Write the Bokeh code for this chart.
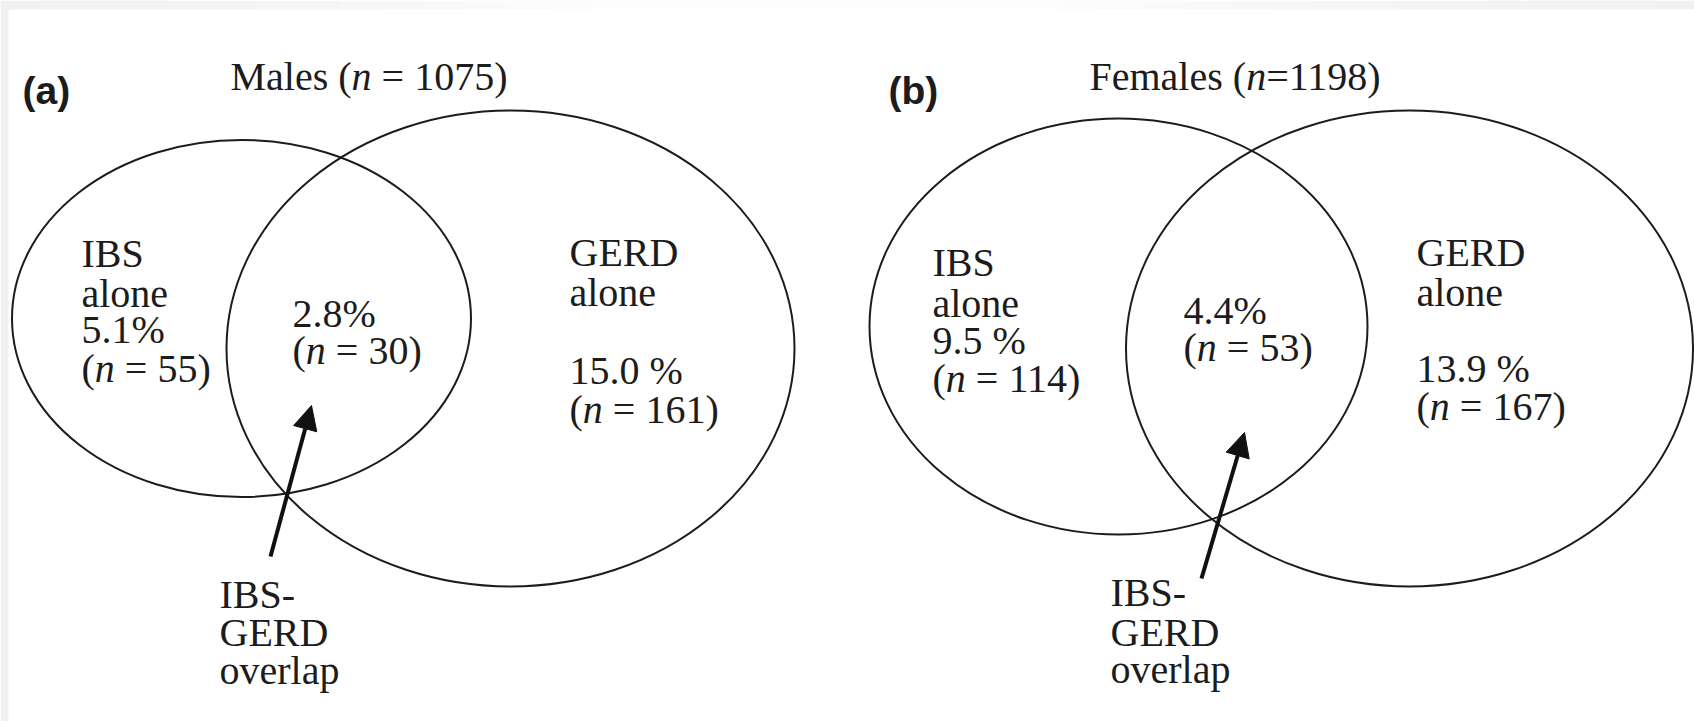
from bokeh.plotting import figure
from bokeh.models import Range1d, Arrow, NormalHead, ColumnDataSource
from bokeh.core.properties import value
from bokeh.embed import file_html
from bokeh.resources import INLINE

# ---------------- data ----------------
groups = ["Males", "Females"]
panel_tags = ["(a)", "(b)"]
group_n = [1075, 1198]
ibs_alone_pct = [5.1, 9.5]
ibs_alone_n = [55, 114]
overlap_pct = [2.8, 4.4]
overlap_n = [30, 53]
gerd_alone_pct = [15.0, 13.9]
gerd_alone_n = [161, 167]

# ---------------- layout (page pixels) ----------------
NB = "\u00a0"
pct_sep_ibs = ["", NB]
title_eq = [NB + "=" + NB, "="]
tag_x = [22, 888]
tag_y = 90
title_x = [230, 1089]
title_y = 76
# ellipse geometry: IBS circle, GERD circle
ibs_cx = [241, 1118]; ibs_cy = [318, 326]; ibs_w = [459, 498]; ibs_h = [357, 416]
gerd_cx = [510, 1409]; gerd_cy = [348, 348]; gerd_w = [568, 567]; gerd_h = [476, 476]
ibs_lab = [(81, [253, 293, 329, 368]), (932, [262, 303, 340, 378])]
ovl_lab = [(292, [313, 350]), (1183, [310, 347])]
gerd_lab = [(569, [252, 292, 370, 409]), (1416, [252, 292, 368, 406])]
note_lab = [(219, [594, 632, 670]), (1110, [592, 632, 669])]
arrow_from = [(270, 556), (1201, 578)]
arrow_to = [(311, 405), (1244, 432)]

W, H = 1694, 721

FONT = "Liberation Serif"
FS = 40
INK = "#1c1c1c"
CW = {" ": 250, NB: 250, "(": 333, ")": 333, "=": 564, "M": 889, "F": 556, "a": 444,
      "l": 278, "e": 444, "s": 389, "m": 778, "n": 500}


def tw(s, size):
    return sum(CW.get(c, 500) for c in s) / 1000.0 * size


p = figure(width=W, height=H, x_range=Range1d(0, W), y_range=Range1d(H, 0),
           output_backend="svg", toolbar_location=None, min_border=0,
           x_axis_location=None, y_axis_location=None)
p.grid.visible = False
p.outline_line_color = None
p.background_fill_color = "white"
p.border_fill_color = "white"

# light grey page edges (top band with fade, left strip)
band_l, band_r, band_c = [], [], []
nseg = 40
for k in range(nseg):
    x0 = k * W / nseg
    xm = x0 + W / nseg / 2
    if xm < 300:
        g = 241 + (xm / 300) * 4
    elif xm < 1350:
        g = 245 + min(1.0, (xm - 300) / 300) * 8 - max(0.0, (xm - 1050) / 300) * 8
    else:
        g = 245 - (xm - 1350) / 344 * 4
    g = int(round(g))
    band_l.append(x0); band_r.append(x0 + W / nseg + 0.5)
    band_c.append("#%02x%02x%02x" % (g, g, g))
p.quad(left=band_l, right=band_r, top=[0] * nseg, bottom=[9] * nseg,
       fill_color=band_c, line_color=None)
p.quad(left=[0], right=[8], top=[0], bottom=[H], fill_color="#f1f1f1", line_color=None)

normal = dict(x=[], y=[], t=[])
italic = dict(x=[], y=[], t=[])


def put(X, Y, segs, size=FS):
    x = X
    for txt, it in segs:
        d = italic if it else normal
        d["x"].append(x); d["y"].append(Y); d["t"].append(txt)
        x += tw(txt, size)


def nlabel(n, eq=NB + "=" + NB):
    return [("(", False), ("n", True), (f"{eq}{n})", False)]


for i in range(2):
    # circles
    p.ellipse(x=[ibs_cx[i], gerd_cx[i]], y=[ibs_cy[i], gerd_cy[i]],
              width=[ibs_w[i], gerd_w[i]], height=[ibs_h[i], gerd_h[i]],
              fill_color=None, line_color=INK, line_width=2)
    # title
    put(title_x[i], title_y, [(f"{groups[i]}{NB}(", False), ("n", True), (f"{title_eq[i]}{group_n[i]})", False)])
    # IBS alone
    x, ys = ibs_lab[i]
    put(x, ys[0], [("IBS", False)])
    put(x, ys[1], [("alone", False)])
    put(x, ys[2], [(f"{ibs_alone_pct[i]:.1f}{pct_sep_ibs[i]}%", False)])
    put(x, ys[3], nlabel(ibs_alone_n[i]))
    # overlap
    x, ys = ovl_lab[i]
    put(x, ys[0], [(f"{overlap_pct[i]:.1f}%", False)])
    put(x, ys[1], nlabel(overlap_n[i]))
    # GERD alone
    x, ys = gerd_lab[i]
    put(x, ys[0], [("GERD", False)])
    put(x, ys[1], [("alone", False)])
    put(x, ys[2], [(f"{gerd_alone_pct[i]:.1f}{NB}%", False)])
    put(x, ys[3], nlabel(gerd_alone_n[i]))
    # overlap note
    x, ys = note_lab[i]
    put(x, ys[0], [("IBS-", False)])
    put(x, ys[1], [("GERD", False)])
    put(x, ys[2], [("overlap", False)])
    # arrow
    (x0, y0), (x1, y1) = arrow_from[i], arrow_to[i]
    p.add_layout(Arrow(end=NormalHead(size=24, fill_color="#111111", line_color="#111111", line_width=1),
                       x_start=x0, y_start=y0, x_end=x1, y_end=y1,
                       line_width=4, line_color="#111111"))

p.text(x="x", y="y", text="t", source=ColumnDataSource(normal),
       text_font=value(FONT), text_font_size=f"{FS}px", text_color=INK,
       text_baseline="alphabetic", text_align="left")
p.text(x="x", y="y", text="t", source=ColumnDataSource(italic),
       text_font=value(FONT), text_font_size=f"{FS}px", text_font_style="italic",
       text_color=INK, text_baseline="alphabetic", text_align="left")

# panel tags
p.text(x=tag_x, y=[tag_y, tag_y], text=panel_tags,
       text_font=value("Liberation Sans"), text_font_size="39px", text_font_style="bold",
       text_color=INK, text_baseline="alphabetic", text_align="left")

open("out.html", "w").write(file_html(p, INLINE))
